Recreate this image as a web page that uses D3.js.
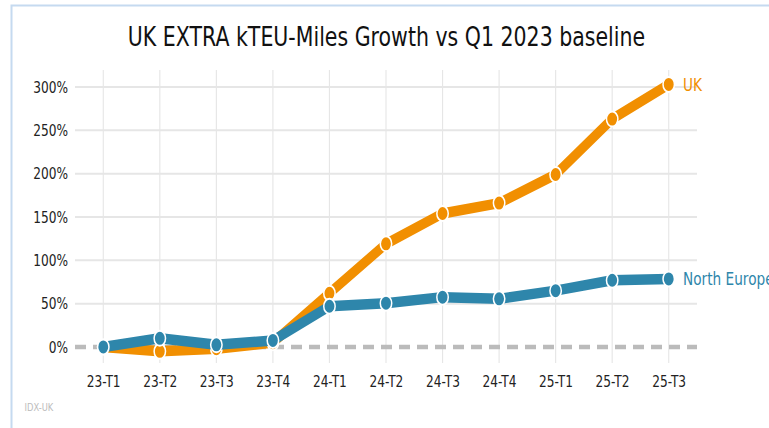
<!DOCTYPE html>
<html><head><meta charset="utf-8">
<script src="https://cdn.jsdelivr.net/npm/d3@7"></script>
<style>html,body{margin:0;padding:0;background:#fff;overflow:hidden}</style>
</head><body>
<svg id="c" width="769" height="428"></svg>
<script>
const categories = ["23-T1","23-T2","23-T3","23-T4","24-T1","24-T2","24-T3","24-T4","25-T1","25-T2","25-T3"];
const ukValues = [0, -5, -2, 5, 62, 119, 154, 166, 199, 263, 303];
const northEuropeValues = [0, 10, 2.5, 7.5, 47, 50.5, 57.5, 55.5, 65, 77, 78.5];
const yTicks = [0, 50, 100, 150, 200, 250, 300];
const seriesNames = ["UK", "North Europe"];
const titleText = "UK EXTRA kTEU-Miles Growth vs Q1 2023 baseline";
const sourceText = "IDX-UK";

const S = 0.76; // horizontal squash of the original picture
const svg = d3.select("#c");
const FONT = "DejaVu Sans, Verdana, sans-serif";

// frame
svg.append("path").attr("d","M11.5,430 L11.5,5.5 L771,5.5").attr("fill","none")
  .attr("stroke","#c5daf0").attr("stroke-width",2);

const g = svg.append("g").attr("transform",`scale(${S},1)`);

const x = d3.scalePoint().domain(categories).range([75/S, 697/S]).padding(0.5);
const y = d3.scaleLinear().domain([-18.5, 319.6]).range([363, 70]);

// grid
g.append("g").selectAll("line").data(categories).join("line")
  .attr("x1",d=>x(d)).attr("x2",d=>x(d)).attr("y1",70).attr("y2",363)
  .attr("stroke","#e6e6e6").attr("stroke-width",1.5);
g.append("g").selectAll("line").data(yTicks.filter(d=>d!==0)).join("line")
  .attr("x1",75/S).attr("x2",697/S).attr("y1",d=>y(d)).attr("y2",d=>y(d))
  .attr("stroke","#e6e6e6").attr("stroke-width",2);

// axes
const ya = g.append("g").attr("transform",`translate(${75/S},0)`)
  .call(d3.axisLeft(y).tickValues(yTicks).tickFormat(d=>d+"%").tickSize(0).tickPadding(7/S));
const xa = g.append("g").attr("transform",`translate(0,363)`)
  .call(d3.axisBottom(x).tickSize(0).tickPadding(12.6));
[ya,xa].forEach(a=>{a.select(".domain").remove();
  a.selectAll("text").attr("font-family",FONT).attr("font-size",16).attr("fill","#222");});

// zero line
g.append("line").attr("x1",75/S).attr("x2",697/S).attr("y1",y(0)).attr("y2",y(0))
  .attr("stroke","#bbbbbb").attr("stroke-width",4.5).attr("stroke-dasharray",`${11/S},${7/S}`);

const series = [
  {name: seriesNames[0], values: ukValues, color: "#F18F01"},
  {name: seriesNames[1], values: northEuropeValues, color: "#2E86AB"}
];
const line = d3.line().x((d,i)=>x(categories[i])).y(d=>y(d));
series.forEach(s=>{
  const sg = g.append("g");
  sg.append("path").attr("d",line(s.values)).attr("fill","none")
    .attr("stroke",s.color).attr("stroke-width",10.5).attr("stroke-linejoin","round");
  sg.selectAll("circle").data(s.values).join("circle")
    .attr("cx",(d,i)=>x(categories[i])).attr("cy",d=>y(d)).attr("r",7.5)
    .attr("fill",s.color).attr("stroke","#fff").attr("stroke-width",2);
  const last = s.values[s.values.length-1];
  sg.append("text").attr("x",683/S).attr("y",y(last)).attr("dy","0.36em")
    .attr("font-family",FONT).attr("font-size",18).attr("fill",s.color).text(s.name);
});

// title & source
g.append("text").attr("x",386.5/S).attr("y",46.5).attr("text-anchor","middle")
  .attr("font-family",FONT).attr("font-size",27).attr("fill","#111").text(titleText);
g.append("text").attr("x",24.5/S).attr("y",411).attr("font-family",FONT)
  .attr("font-size",11).attr("fill","#bbbbbb").text(sourceText);
</script>
</body></html>
